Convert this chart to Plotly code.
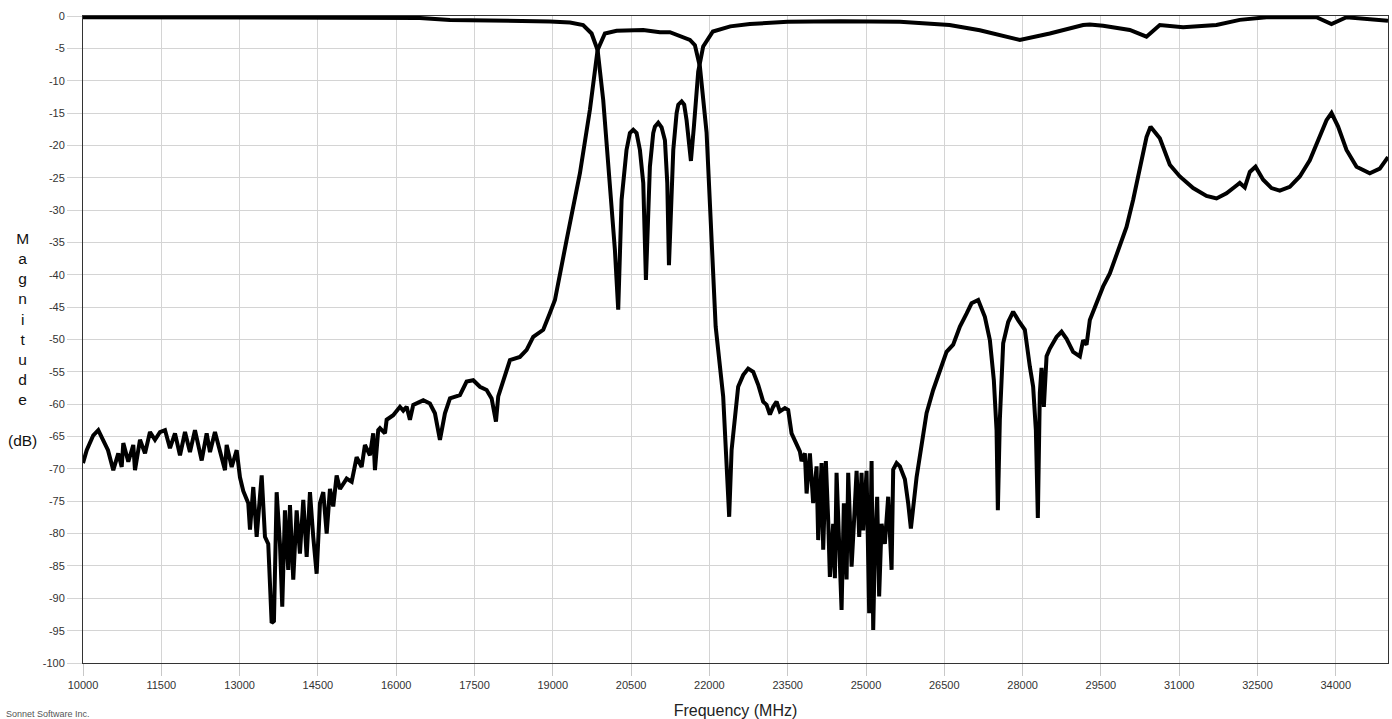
import plotly.graph_objects as go

# S21 (transmission) trace, MHz / dB
s21_freq = [10000, 10071, 10197, 10293, 10383, 10479, 10580, 10676, 10741, 10772, 10868, 10963, 10996,
            11092, 11188, 11283, 11379, 11475, 11571, 11666, 11762, 11858, 11954, 12049, 12145, 12274,
            12369, 12433, 12528, 12624, 12720, 12752, 12848, 12944, 13007, 13070, 13166, 13199, 13262,
            13327, 13423, 13486, 13549, 13614, 13658, 13710, 13773, 13817, 13869, 13932, 13965, 14028,
            14093, 14156, 14220, 14285, 14348, 14411, 14476, 14540, 14603, 14668, 14731, 14794, 14859,
            14923, 15051, 15147, 15242, 15338, 15401, 15497, 15560, 15593, 15656, 15689, 15785, 15817,
            15943, 16072, 16135, 16200, 16263, 16327, 16518, 16646, 16742, 16838, 16934, 17030, 17221,
            17349, 17476, 17604, 17732, 17828, 17911, 17955, 18050, 18179, 18370, 18499, 18625, 18817,
            18945, 19041, 19265, 19520, 19711, 19858, 19998, 20222, 20732, 21052, 21243, 21498, 21627,
            21722, 21818, 21946, 22042, 22120, 22264, 22330, 22379, 22425, 22488, 22551, 22647, 22743,
            22839, 22935, 23030, 23095, 23159, 23222, 23287, 23350, 23446, 23509, 23574, 23670, 23733,
            23766, 23829, 23862, 23925, 23988, 24053, 24084, 24149, 24180, 24231, 24276, 24308, 24371,
            24404, 24436, 24486, 24532, 24576, 24628, 24659, 24724, 24768, 24820, 24870, 24915, 24946,
            25011, 25061, 25107, 25138, 25170, 25214, 25252, 25298, 25361, 25425, 25490, 25521, 25586,
            25649, 25745, 25808, 25860, 25969, 26064, 26160, 26287, 26415, 26543, 26670, 26799, 26926,
            27022, 27149, 27277, 27373, 27449, 27501, 27526, 27564, 27628, 27724, 27819, 27915, 28043,
            28139, 28202, 28254, 28292, 28330, 28363, 28407, 28459, 28522, 28650, 28746, 28842, 28968,
            29097, 29160, 29225, 29288, 29416, 29543, 29671, 29863, 29991, 30118, 30246, 30374, 30451,
            30629, 30820, 31012, 31267, 31523, 31715, 31906, 32098, 32161, 32257, 32353, 32462, 32608,
            32768, 32927, 33119, 33310, 33502, 33694, 33822, 33918, 34044, 34205, 34397, 34651, 34843,
            35000]
s21_db = [-69.1, -67.1, -64.8, -64.0, -65.5, -67.1, -70.2, -67.6, -69.7, -66.0, -68.9, -66.3, -70.2,
          -65.5, -67.6, -64.3, -65.5, -64.3, -64.0, -66.8, -64.5, -67.9, -64.3, -67.4, -64.0, -68.7,
          -64.5, -67.4, -64.3, -67.4, -70.2, -66.3, -69.7, -67.1, -71.3, -73.4, -75.3, -79.4, -72.8,
          -80.5, -71.0, -80.5, -81.6, -93.8, -93.5, -73.6, -81.6, -91.3, -76.4, -85.6, -75.6, -87.1,
          -76.4, -83.1, -74.8, -83.6, -73.6, -80.5, -86.2, -75.3, -73.6, -80.0, -73.1, -75.8, -71.0,
          -73.1, -71.5, -72.0, -68.2, -69.7, -66.3, -67.9, -64.5, -70.2, -64.0, -63.7, -64.5, -62.4,
          -61.7, -60.4, -61.0, -60.4, -62.4, -60.1, -59.4, -59.9, -61.4, -65.5, -61.4, -59.1, -58.6,
          -56.5, -56.3, -57.3, -57.8, -59.1, -62.7, -58.8, -56.3, -53.2, -52.7, -51.6, -49.6, -48.5,
          -45.9, -43.9, -34.6, -24.3, -14.5, -5.25, -2.7, -2.27, -2.16, -2.5, -2.5, -3.3, -3.7,
          -4.5, -7.8, -18.0, -33.6, -48.0, -58.8, -69.1, -77.4, -67.1, -61.4, -57.3, -55.5, -54.5,
          -55.0, -57.0, -59.6, -60.1, -61.6, -60.4, -59.6, -61.1, -60.6, -60.9, -64.5, -66.0, -67.3,
          -68.8, -67.6, -73.8, -67.6, -75.3, -69.6, -81.0, -69.1, -82.5, -68.8, -78.0, -86.7, -78.5,
          -86.9, -70.6, -82.5, -91.8, -75.3, -87.1, -70.6, -85.1, -78.5, -70.3, -80.5, -70.6, -79.5,
          -70.3, -92.3, -68.8, -94.9, -82.0, -74.3, -89.7, -78.5, -81.6, -74.3, -85.6, -70.1, -69.1,
          -69.6, -71.6, -75.3, -79.2, -71.3, -66.5, -61.4, -57.8, -54.7, -51.9, -50.8, -48.0, -46.0,
          -44.4, -43.9, -46.5, -50.1, -56.3, -64.0, -76.4, -62.4, -50.6, -47.3, -45.7, -47.0, -48.5,
          -54.2, -57.3, -64.0, -77.6, -58.3, -54.4, -60.4, -52.6, -51.4, -49.6, -48.8, -49.9, -51.9,
          -52.6, -50.1, -50.8, -47.0, -44.4, -41.8, -39.8, -35.7, -32.6, -28.4, -23.8, -18.7, -17.1,
          -18.9, -23.0, -24.8, -26.6, -27.8, -28.2, -27.4, -26.2, -25.8, -26.5, -24.1, -23.3, -25.3,
          -26.6, -27.0, -26.4, -24.8, -22.3, -18.7, -16.1, -15.0, -17.1, -20.7, -23.3, -24.3, -23.6,
          -21.8]

# S11 (reflection) trace, MHz / dB
s11_freq = [10000, 12000, 14000, 15500, 16450, 17030, 18000, 18945, 19330, 19580, 19743, 19800, 19858,
            19966, 20094, 20190, 20253, 20318, 20412, 20477, 20541, 20605, 20669, 20733, 20784, 20860,
            20924, 20956, 21020, 21084, 21148, 21193, 21225, 21308, 21372, 21404, 21468, 21517, 21563,
            21646, 21703, 21786, 21881, 22067, 22400, 22775, 23500, 24500, 25650, 26600, 27180, 27564,
            27947, 28521, 29160, 29288, 29543, 30054, 30373, 30628, 31075, 31714, 32160, 32672, 33630,
            33917, 34204, 35000]
s11_db = [-0.2, -0.2, -0.2, -0.25, -0.3, -0.6, -0.7, -0.85, -1.0, -1.4, -2.7, -4.0, -5.25,
          -13.0, -25.8, -36.2, -45.4, -28.4, -20.7, -18.1, -17.6, -18.1, -20.7, -25.8, -40.8, -23.3,
          -18.1, -17.1, -16.5, -17.2, -19.2, -25.8, -38.5, -20.7, -15.0, -13.7, -13.2, -13.7, -16.1,
          -22.4, -17.1, -8.6, -4.7, -2.4, -1.6, -1.24, -0.9, -0.8, -0.9, -1.4, -2.2, -2.9,
          -3.7, -2.7, -1.4, -1.3, -1.5, -2.16, -3.2, -1.4, -1.75, -1.4, -0.6, -0.2, -0.2,
          -1.24, -0.2, -0.75]

x_ticks = list(range(10000, 35000, 1500))
y_ticks = list(range(-100, 1, 5))

fig = go.Figure()
fig.add_trace(go.Scatter(x=s11_freq, y=s11_db, mode="lines",
                         line=dict(color="black", width=4), name="S11"))
fig.add_trace(go.Scatter(x=s21_freq, y=s21_db, mode="lines",
                         line=dict(color="black", width=4), name="S21"))

axis_font = dict(family="Liberation Sans, Arial, sans-serif", size=11, color="#333333")
fig.update_layout(
    width=1392, height=719,
    margin=dict(l=83, r=4, t=16, b=56),
    paper_bgcolor="white", plot_bgcolor="white",
    showlegend=False,
    font=dict(family="Liberation Sans, Arial, sans-serif"),
    xaxis=dict(range=[10000, 35000], tickvals=x_ticks, ticktext=[str(v) for v in x_ticks],
               showgrid=True, gridcolor="#d4d4d4", gridwidth=1, automargin=False,
               ticks="outside", ticklen=12, tickcolor="#c8c8c8",
               showline=True, linecolor="#333333", linewidth=1, mirror=True,
               zeroline=False, tickfont=axis_font,
               title=dict(text="Frequency (MHz)", font=dict(size=16, color="#222222"), standoff=16)),
    yaxis=dict(range=[-100, 0], tickvals=y_ticks, ticktext=[str(v) for v in y_ticks],
               showgrid=True, gridcolor="#d4d4d4", gridwidth=1, automargin=False,
               ticks="outside", ticklen=15, tickcolor="#d4d4d4",
               showline=True, linecolor="#333333", linewidth=1, mirror=True,
               zeroline=False, tickfont=axis_font),
)
fig.add_annotation(text="M<br>a<br>g<br>n<br>i<br>t<br>u<br>d<br>e<br><br>(dB)",
                   xref="paper", yref="paper", x=-0.0465, y=0.50, xanchor="center", yanchor="middle",
                   showarrow=False, align="center",
                   font=dict(size=15.5, color="#111111", family="Liberation Sans, Arial, sans-serif"))
fig.add_annotation(text="Sonnet Software Inc.", xref="paper", yref="paper",
                   x=-0.0605, y=-0.079, xanchor="left", yanchor="middle", showarrow=False,
                   font=dict(size=9, color="#555555", family="Liberation Sans, Arial, sans-serif"))
fig.write_html("out.html", config={"displayModeBar": False},
               post_script="document.body.style.margin='0';document.body.style.overflow='hidden';")
